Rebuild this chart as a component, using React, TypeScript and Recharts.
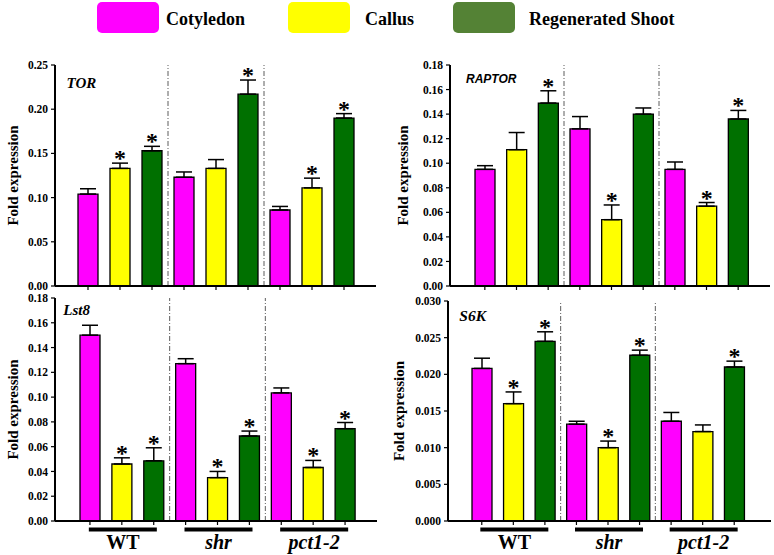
import React from "react";
import { Bar, BarChart, Cell, ErrorBar, ReferenceLine, XAxis, YAxis } from "recharts";

const SERIF = "'Liberation Serif', 'Times New Roman', serif";
const SANS = "'Liberation Sans', Arial, sans-serif";

const genotypes = ["WT", "shr", "pct1-2"];
const tissues = ["Cotyledon", "Callus", "Regenerated Shoot"];
const barColors = ["#ff00ff", "#ffff00", "#007000"];
const legendColors = ["#ff00ff", "#ffff00", "#548235"];

// order: WT (C, Ca, R), shr (C, Ca, R), pct1-2 (C, Ca, R)
const torValues = [0.104, 0.133, 0.153, 0.123, 0.133, 0.217, 0.086, 0.111, 0.19];
const torErrors = [0.006, 0.006, 0.005, 0.006, 0.01, 0.016, 0.004, 0.011, 0.005];
const torStars = [0, 1, 1, 0, 0, 1, 0, 1, 1];

const raptorValues = [0.095, 0.111, 0.149, 0.128, 0.054, 0.14, 0.095, 0.065, 0.136];
const raptorErrors = [0.003, 0.014, 0.01, 0.01, 0.012, 0.005, 0.006, 0.003, 0.007];
const raptorStars = [0, 0, 1, 0, 1, 0, 0, 1, 1];

const lst8Values = [0.15, 0.046, 0.0486, 0.127, 0.035, 0.0686, 0.1034, 0.0432, 0.0745];
const lst8Errors = [0.008, 0.005, 0.0105, 0.004, 0.005, 0.004, 0.004, 0.0057, 0.005];
const lst8Stars = [0, 1, 1, 0, 1, 1, 0, 1, 1];

const s6kValues = [0.0208, 0.016, 0.0245, 0.0132, 0.01, 0.0226, 0.0136, 0.0122, 0.021];
const s6kErrors = [0.0014, 0.0016, 0.0013, 0.0004, 0.0009, 0.0007, 0.0012, 0.0009, 0.0008];
const s6kStars = [0, 1, 1, 0, 1, 1, 0, 0, 1];

const ticks18 = [0, 0.02, 0.04, 0.06, 0.08, 0.1, 0.12, 0.14, 0.16, 0.18];
const ticks25 = [0, 0.05, 0.1, 0.15, 0.2, 0.25];
const ticks030 = [0, 0.005, 0.01, 0.015, 0.02, 0.025, 0.03];

interface Row {
  key: string;
  genotype: string;
  tissue: number;
  value: number;
  e: number;
  err: [number, number];
  star: boolean;
}

function buildRows(values: number[], errors: number[], stars: number[]): Row[] {
  const rows: Row[] = [];
  genotypes.forEach((g, gi) => {
    tissues.forEach((t, ti) => {
      const i = gi * 3 + ti;
      rows.push({
        key: `${g}|${t}`,
        genotype: g,
        tissue: ti,
        value: values[i],
        e: errors[i],
        err: [0, errors[i]],
        star: stars[i] === 1,
      });
    });
  });
  return rows;
}

function GroupTick(props: any) {
  const { x, y, payload, index } = props;
  const i = payload?.index ?? index;
  if (i % 3 !== 1) return <g />;
  const g = genotypes[Math.floor(i / 3)];
  return (
    <g>
      <line x1={x - 33} x2={x + 35} y1={y + 4.5} y2={y + 4.5} stroke="#000" strokeWidth={4} />
      <text
        x={x + 1}
        y={y + 24}
        textAnchor="middle"
        fontFamily={SERIF}
        fontWeight="bold"
        fontStyle={g === "WT" ? "normal" : "italic"}
        fontSize={20}
        fill="#000"
      >
        {g}
      </text>
    </g>
  );
}

function Panel({
  rows,
  yMax,
  ticks,
  digits,
  box,
  margin,
  padding,
  groups,
  labelOffset,
}: {
  rows: Row[];
  yMax: number;
  ticks: number[];
  digits: number;
  box: { left: number; top: number; width: number; height: number };
  margin: { top: number; right: number; left: number; bottom: number };
  padding: { left: number; right: number };
  groups: boolean;
  labelOffset: number;
}) {
  const starLabel = (p: any) => {
    const row = rows[p.index];
    if (!row || !row.star) return null;
    const errPx = (row.e * Number(p.height)) / row.value;
    return (
      <text
        x={Number(p.x) + Number(p.width) / 2}
        y={Number(p.y) - errPx + 3}
        textAnchor="middle"
        fontFamily={SERIF}
        fontWeight="bold"
        fontSize={24}
        fill="#000"
      >
        *
      </text>
    );
  };

  return (
    <div style={{ position: "absolute", left: box.left, top: box.top }}>
      <BarChart width={box.width} height={box.height} data={rows} margin={margin} barSize={20}>
        <XAxis
          dataKey="key"
          padding={padding}
          interval={0}
          tickSize={4}
          tickMargin={0}
          height={groups ? 30 : 10}
          axisLine={{ stroke: "#000", strokeWidth: 2 }}
          tickLine={{ stroke: "#000", strokeWidth: 1.2 }}
          tick={groups ? <GroupTick /> : () => <g />}
        />
        <XAxis
          xAxisId="top"
          orientation="top"
          dataKey="key"
          height={0}
          tick={false}
          tickLine={false}
          axisLine={{ stroke: "#000", strokeWidth: 2 }}
        />
        <YAxis
          domain={[0, yMax]}
          ticks={ticks}
          interval={0}
          width={50}
          tickSize={4}
          tickMargin={3}
          tickFormatter={(v: number) => v.toFixed(digits)}
          axisLine={{ stroke: "#000", strokeWidth: 2 }}
          tickLine={{ stroke: "#000", strokeWidth: 1.2 }}
          tick={{ fill: "#000", fontSize: 11.5, fontWeight: "bold", fontFamily: SERIF }}
          label={{
            value: "Fold expression",
            angle: -90,
            position: "insideLeft",
            offset: labelOffset,
            style: {
              textAnchor: "middle",
              fontFamily: SERIF,
              fontWeight: "bold",
              fontSize: 15,
              fill: "#000",
            },
          }}
        />
        <YAxis
          yAxisId="right"
          orientation="right"
          domain={[0, yMax]}
          width={0}
          tick={false}
          tickLine={false}
          axisLine={{ stroke: "#000", strokeWidth: 2 }}
        />
        <ReferenceLine
          x={rows[2].key}
          position="end"
          stroke="#333"
          strokeWidth={0.8}
          strokeDasharray="5 2 1 2"
        />
        <ReferenceLine
          x={rows[5].key}
          position="end"
          stroke="#333"
          strokeWidth={0.8}
          strokeDasharray="5 2 1 2"
        />
        <Bar
          dataKey="value"
          stroke="#000"
          strokeWidth={1.3}
          isAnimationActive={false}
          label={starLabel}
        >
          {rows.map((r) => (
            <Cell key={r.key} fill={barColors[r.tissue]} />
          ))}
          <ErrorBar dataKey="err" direction="y" width={8} stroke="#000" strokeWidth={1.5} />
        </Bar>
      </BarChart>
    </div>
  );
}

const legendBoxX = [97, 288, 453];
const legendTextX = [166, 365, 529];

export default function App() {
  const torRows = buildRows(torValues, torErrors, torStars);
  const raptorRows = buildRows(raptorValues, raptorErrors, raptorStars);
  const lst8Rows = buildRows(lst8Values, lst8Errors, lst8Stars);
  const s6kRows = buildRows(s6kValues, s6kErrors, s6kStars);

  return (
    <div
      style={{
        position: "absolute",
        left: 0,
        top: 0,
        width: 774,
        height: 555,
        background: "#fff",
        overflow: "hidden",
      }}
    >
      <Panel
        rows={torRows}
        yMax={0.25}
        ticks={ticks25}
        digits={2}
        box={{ left: 0, top: 50, width: 385, height: 250 }}
        margin={{ top: 15, right: 9, left: 5, bottom: 4 }}
        padding={{ left: 17, right: 16 }}
        groups={false}
        labelOffset={8}
      />
      <Panel
        rows={raptorRows}
        yMax={0.18}
        ticks={ticks18}
        digits={2}
        box={{ left: 390, top: 50, width: 384, height: 250 }}
        margin={{ top: 15, right: 4, left: 10, bottom: 4 }}
        padding={{ left: 19, right: 16 }}
        groups={false}
        labelOffset={3}
      />
      <Panel
        rows={lst8Rows}
        yMax={0.18}
        ticks={ticks18}
        digits={2}
        box={{ left: 0, top: 288, width: 385, height: 267 }}
        margin={{ top: 10, right: 8, left: 5, bottom: 4 }}
        padding={{ left: 19, right: 16 }}
        groups={true}
        labelOffset={8}
      />
      <Panel
        rows={s6kRows}
        yMax={0.03}
        ticks={ticks030}
        digits={3}
        box={{ left: 390, top: 288, width: 384, height: 267 }}
        margin={{ top: 13, right: 3, left: 8, bottom: 4 }}
        padding={{ left: 18, right: 21 }}
        groups={true}
        labelOffset={1}
      />
      <svg
        width={774}
        height={555}
        style={{ position: "absolute", left: 0, top: 0, pointerEvents: "none" }}
      >
        {tissues.map((t, i) => (
          <g key={t}>
            <rect x={legendBoxX[i]} y={2} width={62} height={31} rx={5} fill={legendColors[i]} />
            <text
              x={legendTextX[i]}
              y={24.5}
              fontFamily={SERIF}
              fontWeight="bold"
              fontSize={18}
              fill="#000"
            >
              {t}
            </text>
          </g>
        ))}
        <text x={66.5} y={87.7} fontFamily={SERIF} fontWeight="bold" fontStyle="italic" fontSize={15} fill="#000">
          TOR
        </text>
        <text x={466} y={83.3} fontFamily={SANS} fontWeight="bold" fontStyle="italic" fontSize={12} fill="#000">
          RAPTOR
        </text>
        <text x={63.3} y={315} fontFamily={SERIF} fontWeight="bold" fontStyle="italic" fontSize={15} fill="#000">
          Lst8
        </text>
        <text x={459.3} y={320.5} fontFamily={SERIF} fontWeight="bold" fontStyle="italic" fontSize={15.5} fill="#000">
          S6K
        </text>
      </svg>
    </div>
  );
}
